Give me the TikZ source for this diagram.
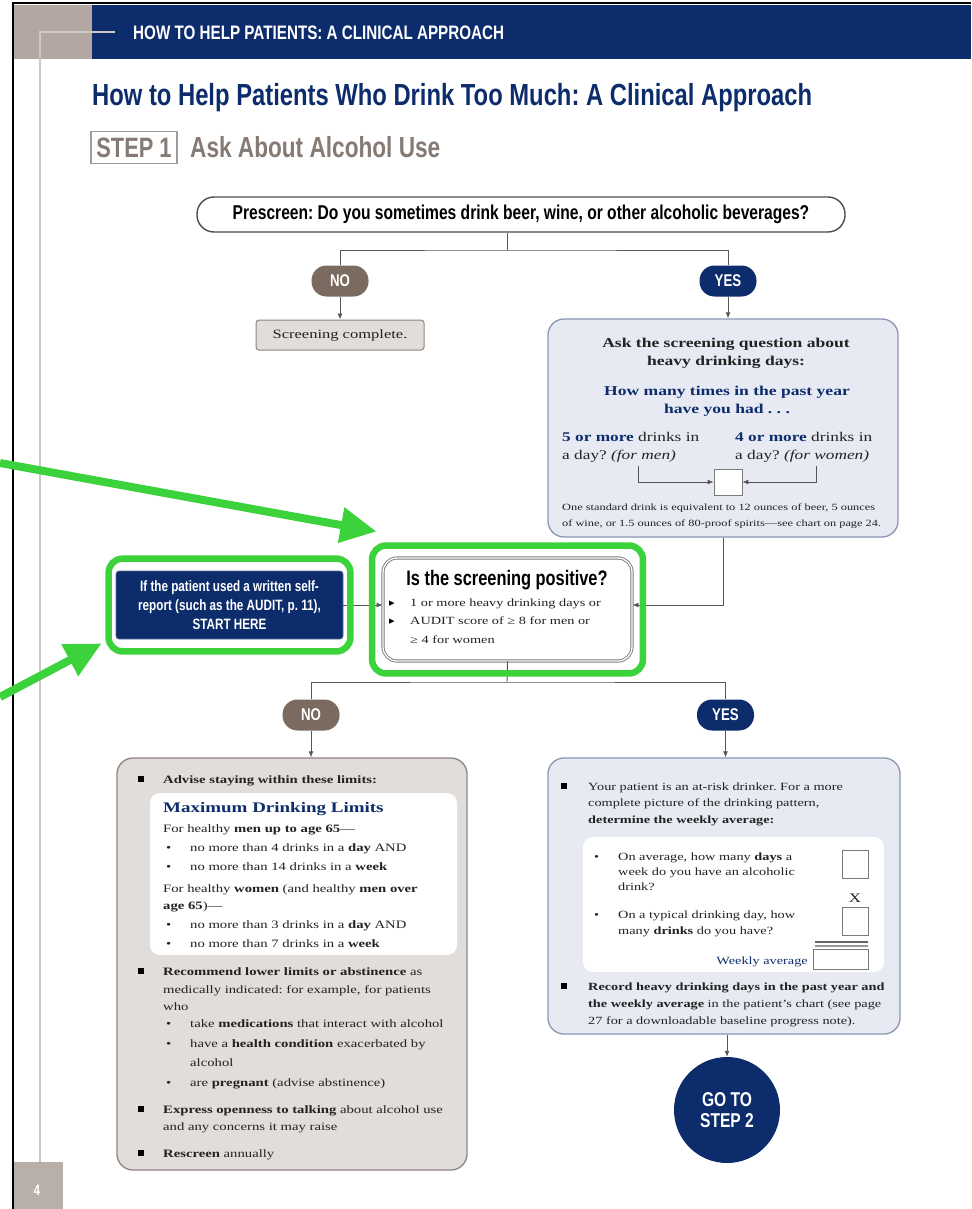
\documentclass[tikz,border=0pt]{standalone}
\usepackage{fontspec}
\setmainfont{Liberation Serif}[FakeStretch=1.3]
\newfontfamily\cond{Liberation Sans}[FakeStretch=0.78]
\newfontfamily\dvs{DejaVu Sans}
\usetikzlibrary{arrows.meta,calc,fit}
\newcommand\fsz[2]{\fontsize{#1}{#2}\selectfont}
\definecolor{navy}{HTML}{0D2C6C}
\definecolor{nobrown}{HTML}{7B6A60}
\definecolor{taupe}{HTML}{B2A7A1}
\definecolor{pagetaupe}{HTML}{B9AFA9}
\definecolor{pageline}{HTML}{CFC9C6}
\definecolor{stepgray}{HTML}{857A74}
\definecolor{stepline}{HTML}{A39A95}
\definecolor{warmfill}{HTML}{E1DDDA}
\definecolor{warmline}{HTML}{8E8580}
\definecolor{bluefill}{HTML}{E7EAF2}
\definecolor{blueline}{HTML}{8B96B2}
\definecolor{hlgreen}{HTML}{3CD23C}
\definecolor{conncol}{HTML}{555555}
\definecolor{bodytext}{HTML}{222222}
\definecolor{boxline}{HTML}{7A7A7A}
\tikzset{
  tl/.style={inner sep=0pt, anchor=base west},
  tc/.style={inner sep=0pt, anchor=base},
  tr/.style={inner sep=0pt, anchor=base east},
  bl/.style={tl, text=bodytext, font=\fsz{11.3}{14}},
  br/.style={tl, text=bodytext, font=\fsz{11}{14}},
  bs/.style={tl, text=bodytext, font=\fsz{11}{14}},
  conn/.style={draw=conncol, line width=0.9pt},
  arr/.style={conn, -{Latex[length=6pt,width=5pt]}},
  pill/.style={fill=#1, text=white, rounded corners=15pt, minimum width=57pt,
    minimum height=31pt, inner sep=0pt, font=\cond\bfseries\fsz{17}{20}},
  bluebox/.style={draw=blueline, fill=bluefill, line width=1.3pt, rounded corners=16pt, inner sep=0pt},
  warmbox/.style={draw=warmline, fill=warmfill, line width=1.3pt, rounded corners=16pt, inner sep=0pt},
  whitebox/.style={fill=white, rounded corners=10pt, inner sep=0pt},
  ansbox/.style={draw=boxline, fill=white, line width=0.8pt, inner sep=0pt},
  sq/.style={fill=black, minimum size=6.5pt, inner sep=0pt},
  hl/.style={draw=hlgreen, line width=6.5pt, rounded corners=14pt},
  garr/.style={draw=hlgreen, line width=8pt, -{Triangle[length=36pt,width=34pt]}}
}
\begin{document}
\frenchspacing
\begin{tikzpicture}[x=1pt,y=-1pt]
\useasboundingbox (0,0) rectangle (971,1209);
\fill[white] (0,0) rectangle (971,1209);
% page frame and header
\fill[taupe] (14,5) rectangle (92,59);
\fill[navy] (92,5) rectangle (971,59);
\draw[black, line width=2pt] (13,3) -- (971,3);
\draw[black, line width=2pt] (13,2) -- (13,1209);
\draw[pageline, line width=1.2pt] (115,32) -- (40,32) -- (40,1162);
\fill[pagetaupe] (14,1162) rectangle (63,1209);
\node[text=white, font=\cond\bfseries\fsz{15}{18}] (pg) at (37,1190) {4};
\node[tl, text=white, font=\cond\bfseries\fsz{19.5}{22}] (hdr) at (133,40) {HOW TO HELP PATIENTS: A CLINICAL APPROACH};
\node[tl, text=navy, font=\cond\bfseries\fsz{30.5}{34}] (ttl) at (92,106) {How to Help Patients Who Drink Too Much: A Clinical Approach};
\node[draw=stepline, line width=1.2pt, text=stepgray, font=\cond\bfseries\fsz{28}{30},
  minimum width=86pt, minimum height=32pt, inner sep=0pt] (stp) at (134,147.5) {STEP 1};
\node[tl, text=stepgray, font=\cond\bfseries\fsz{29}{32}] (ask) at (190,157.5) {Ask About Alcohol Use};

% prescreen
\node[draw=black!70, line width=1.4pt, fill=white, rounded corners=17pt, minimum width=648pt,
  minimum height=35pt, inner sep=0pt, font=\cond\bfseries\fsz{20}{22}] (pre) at (521,214.5)
  {Prescreen: Do you sometimes drink beer, wine, or other alcoholic beverages?};
\node[pill=nobrown] (no1) at (340,281) {NO};
\node[pill=navy] (yes1) at (728,281) {YES};
\node[draw=warmline, fill=warmfill, line width=1pt, rounded corners=3pt, minimum width=168pt,
  minimum height=30pt, inner sep=0pt, text=bodytext, font=\fsz{12.7}{14}] (sc) at (340,335) {Screening complete.};

% screening question box
\node[bluebox, minimum width=350pt, minimum height=218pt] (q1) at (723,428) {};
\node[tc, text=bodytext, font=\bfseries\fsz{13.5}{15}] (b1) at (726,347) {Ask the screening question about};
\node[tc, text=bodytext, font=\bfseries\fsz{13.5}{15}] (b2) at (726,365) {heavy drinking days:};
\node[tc, text=navy, font=\bfseries\fsz{13.5}{15}] (b3) at (727,395) {How many times in the past year};
\node[tc, text=navy, font=\bfseries\fsz{13.5}{15}] (b4) at (727,413) {have you had . . .};
\node[tl, text=bodytext, font=\fsz{13.3}{15}] (b5) at (562,441) {\textcolor{navy}{\textbf{5 or more}} drinks in};
\node[tl, text=bodytext, font=\fsz{13.3}{15}] (b6) at (562,459) {a day? \textit{(for men)}};
\node[tl, text=bodytext, font=\fsz{13.3}{15}] (b7) at (735,441) {\textcolor{navy}{\textbf{4 or more}} drinks in};
\node[tl, text=bodytext, font=\fsz{13.3}{15}] (b8) at (735,459) {a day? \textit{(for women)}};
\node[ansbox, minimum width=28pt, minimum height=26pt] (ans) at (728,482) {};
\coordinate (la) at (638,466);
\coordinate (ra) at (816,466);
\draw[arr] (la) |- (ans.west);
\draw[arr] (ra) |- (ans.east);
\node[tl, text=bodytext, font=\fsz{9.5}{11}] (f1) at (562,510) {One standard drink is equivalent to 12 ounces of beer, 5 ounces};
\node[tl, text=bodytext, font=\fsz{9.5}{11}] (f2) at (562,526) {of wine, or 1.5 ounces of 80-proof spirits—see chart on page 24.};

% screening positive box and self-report box
\node[draw=boxline, double=white, double distance=1.3pt, line width=0.9pt, fill=white,
  rounded corners=14pt, minimum width=249pt, minimum height=103pt, inner sep=0pt] (sp) at (507.5,609.5) {};
\node[tc, font=\cond\bfseries\fsz{21}{23}] (s0) at (507,585) {Is the screening positive?};
\node[tl, font=\dvs\fsz{11}{12}] (s1b) at (389,606) {▸};
\node[bs] (s1) at (410,606) {1 or more heavy drinking days or};
\node[tl, font=\dvs\fsz{11}{12}] (s2b) at (389,624) {▸};
\node[bs] (s2) at (410,624) {AUDIT score of ≥ 8 for men or};
\node[bs] (s3) at (410,643) {≥ 4 for women};
\node[fill=navy, draw=navy!70, line width=0.8pt, rounded corners=3pt, minimum width=227pt,
  minimum height=68pt, text=white, align=center, inner sep=0pt, font=\cond\bfseries\fsz{15}{19}]
  (nv) at (229.5,605) {If the patient used a written self-\\report (such as the AUDIT, p. 11),\\START HERE};

% connectors, top half
\coordinate (j1) at (507,250);
\draw[conn] (pre.south -| j1) -- (j1);
\draw[conn] (no1.north) |- (j1) -| (yes1.north);
\draw[arr] (no1.south) -- (sc.north);
\draw[arr] (yes1.south) -- (yes1.south |- q1.north);
\draw[arr] (nv.east) -- (nv.east -| sp.west);
\draw[arr] (q1.south) |- (sp.east |- nv.east);

% second level
\node[pill=nobrown] (no2) at (311,715) {NO};
\node[pill=navy] (yes2) at (725.5,715) {YES};
\coordinate (j2) at (507,682);
\draw[conn] (sp.south) -- (j2);
\draw[conn] (no2.north) |- (j2) -| (yes2.north);

% left box (NO)
\node[warmbox, minimum width=350pt, minimum height=412pt] (L) at (292,964) {};
\draw[arr] (no2.south) -- (no2.south |- L.north);
\node[whitebox, minimum width=307pt, minimum height=162pt] (Lw) at (303.5,874) {};
\node[sq] (lq1) at (141,779) {};
\node[bl] (l1) at (163,783) {\textbf{Advise staying within these limits:}};
\node[tl, text=navy, font=\bfseries\fsz{14.6}{16}] (l2) at (163,812) {Maximum Drinking Limits};
\node[bl] (l3) at (163,832) {For healthy \textbf{men up to age 65}—};
\node[bl] (l4d) at (166,851) {•};
\node[bl] (l4) at (190,851) {no more than 4 drinks in a \textbf{day} AND};
\node[bl] (l5d) at (166,870) {•};
\node[bl] (l5) at (190,870) {no more than 14 drinks in a \textbf{week}};
\node[bl] (l6) at (163,892) {For healthy \textbf{women} (and healthy \textbf{men over}};
\node[bl] (l7) at (163,909) {\textbf{age 65})—};
\node[bl] (l8d) at (166,928) {•};
\node[bl] (l8) at (190,928) {no more than 3 drinks in a \textbf{day} AND};
\node[bl] (l9d) at (166,947) {•};
\node[bl] (l9) at (190,947) {no more than 7 drinks in a \textbf{week}};
\node[sq] (lq2) at (141,971) {};
\node[bl] (l10) at (163,975) {\textbf{Recommend lower limits or abstinence} as};
\node[bl] (l11) at (163,993) {medically indicated: for example, for patients};
\node[bl] (l12) at (163,1010) {who};
\node[bl] (l13d) at (166,1027) {•};
\node[bl] (l13) at (190,1027) {take \textbf{medications} that interact with alcohol};
\node[bl] (l14d) at (166,1047) {•};
\node[bl] (l14) at (190,1047) {have a \textbf{health condition} exacerbated by};
\node[bl] (l15) at (190,1066) {alcohol};
\node[bl] (l16d) at (166,1086) {•};
\node[bl] (l16) at (190,1086) {are \textbf{pregnant} (advise abstinence)};
\node[sq] (lq3) at (141,1109) {};
\node[bl] (l17) at (163,1113) {\textbf{Express openness to talking} about alcohol use};
\node[bl] (l18) at (163,1130) {and any concerns it may raise};
\node[sq] (lq4) at (141,1153) {};
\node[bl] (l19) at (163,1157) {\textbf{Rescreen} annually};

% right box (YES)
\node[bluebox, minimum width=352pt, minimum height=276pt] (R) at (724,896) {};
\draw[arr] (yes2.south) -- (yes2.south |- R.north);
\node[whitebox, minimum width=301pt, minimum height=135pt] (Rw) at (733.5,904.5) {};
\node[sq] (rq1) at (564,786) {};
\node[br] (r1) at (588,790) {Your patient is an at-risk drinker. For a more};
\node[br] (r2) at (588,806) {complete picture of the drinking pattern,};
\node[br] (r3) at (588,823) {\textbf{determine the weekly average:}};
\node[br] (r4d) at (594,860) {•};
\node[br] (r4) at (618,860) {On average, how many \textbf{days} a};
\node[br] (r5) at (618,875) {week do you have an alcoholic};
\node[br] (r6) at (618,890) {drink?};
\node[ansbox, minimum width=26pt, minimum height=28pt] (d1) at (855,864) {};
\node[tc, text=bodytext, font=\fsz{13}{15}] (xx) at (855,902) {X};
\node[br] (r7d) at (594,918) {•};
\node[br] (r7) at (618,918) {On a typical drinking day, how};
\node[br] (r8) at (618,934) {many \textbf{drinks} do you have?};
\node[ansbox, minimum width=26pt, minimum height=28pt] (d2) at (855,921) {};
\draw[draw=black!60, line width=2pt] (815,942) -- (868,942);
\draw[draw=black!40, line width=1.2pt] (815,946) -- (868,946);
\node[ansbox, minimum width=55pt, minimum height=20pt] (wa) at (840.5,959) {};
\node[tr, text=navy, font=\fsz{11}{14}] (wl) at (808,964) {Weekly average};
\node[sq] (rq2) at (564,986) {};
\node[br] (r9) at (588,990) {\textbf{Record heavy drinking days in the past year and}};
\node[br] (r10) at (588,1007) {\textbf{the weekly average} in the patient's chart (see page};
\node[br] (r11) at (588,1024) {27 for a downloadable baseline progress note).};

% go to step 2
\node[circle, fill=navy, minimum size=106pt, inner sep=0pt, text=white, align=center,
  font=\cond\bfseries\fsz{20}{21}] (go) at (727,1110) {GO TO\\STEP 2};
\draw[arr] (go.north |- R.south) -- (go.north);

% green highlights and arrows
\node[hl, fit=(nv), inner xsep=7pt, inner ysep=12pt] (hl1) {};
\node[hl, fit=(sp), inner xsep=10.5pt, inner ysep=12pt] (hl2) {};
\coordinate (g1s) at (0,463);
\coordinate (g2s) at (0,697);
\draw[garr] (g1s) -- ($(sp.north west)+(-6,-26)$);
\draw[garr] (g2s) -- ($(nv.south west)+(-14,4)$);
\end{tikzpicture}
\end{document}
